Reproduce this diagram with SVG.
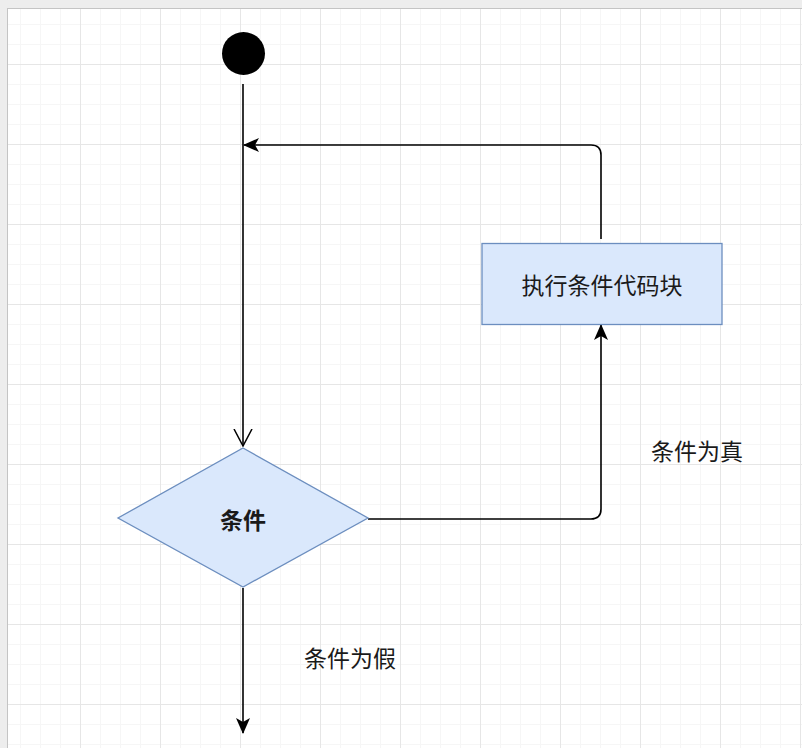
<svg xmlns="http://www.w3.org/2000/svg" width="802" height="748" viewBox="0 0 802 748">
<defs>
<pattern id="minor" x="0" y="4" width="20" height="20" patternUnits="userSpaceOnUse">
<path d="M0.5 0V20M0 0.5H20" fill="none" stroke="#f6f6f6" stroke-width="1"/>
</pattern>
<pattern id="major" x="0" y="64" width="80" height="80" patternUnits="userSpaceOnUse">
<path d="M0.5 0V80M0 0.5H80" fill="none" stroke="#e6e6e6" stroke-width="1"/>
</pattern>
<marker id="block" viewBox="0 0 16 14" refX="15" refY="7" markerWidth="16" markerHeight="14" markerUnits="userSpaceOnUse" orient="auto">
<path d="M0 0L16 7L0 14L4 7Z" fill="#000"/>
</marker>
<marker id="open" viewBox="0 0 18 20" refX="17" refY="10" markerWidth="18" markerHeight="20" markerUnits="userSpaceOnUse" orient="auto">
<path d="M0 1L17 10L0 19" fill="none" stroke="#000" stroke-width="1.5"/>
</marker>
</defs>
<style>
.edge{fill:none;stroke:#000;stroke-width:1.6}
.node{fill:#dae8fc;stroke:#6c8ebf;stroke-width:1.3}
.t{font-family:"Noto Sans CJK SC","Noto Sans",sans-serif;font-size:23px;fill:#1a1a1a;text-anchor:middle;dominant-baseline:central}
</style>
<rect width="802" height="748" fill="#ededed"/>
<rect x="7.5" y="8.5" width="800" height="745" fill="#fff" stroke="#c4c4c4" stroke-width="1"/>
<rect x="8" y="9" width="794" height="739" fill="url(#minor)"/>
<rect x="8" y="9" width="794" height="739" fill="url(#major)"/>
<g id="connectors">
<path class="edge" d="M243 84V446" marker-end="url(#open)"/>
<path class="edge" d="M601 239V155Q601 145 591 145H244" marker-end="url(#block)"/>
<path class="edge" d="M368 519H591Q601 519 601 509V325" marker-end="url(#block)"/>
<path class="edge" d="M243 588V733" marker-end="url(#block)"/>
</g>
<g id="start"><circle cx="243.5" cy="53.5" r="21.5" fill="#000"/></g>
<g id="block-node">
<rect class="node" x="482" y="243.5" width="240" height="81"/>
<text class="t" x="602" y="284">执行条件代码块</text>
</g>
<g id="condition">
<polygon class="node" points="243,448 368,518 243,587 118,518"/>
<text class="t" x="243" y="519" font-weight="bold">条件</text>
</g>
<g id="label-true"><text class="t" x="697" y="450">条件为真</text></g>
<g id="label-false"><text class="t" x="350" y="657">条件为假</text></g>
</svg>
